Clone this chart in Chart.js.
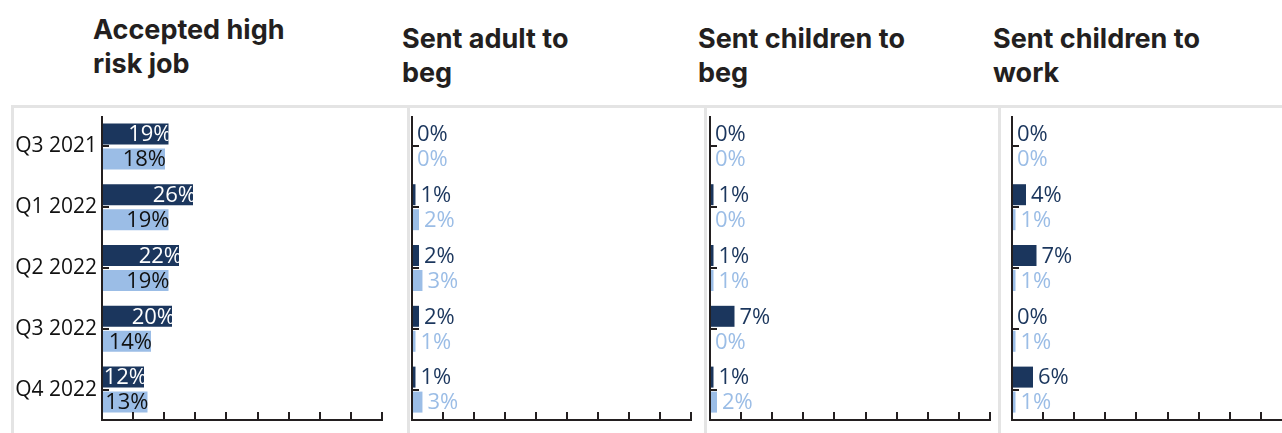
<!DOCTYPE html>
<html>
<head>
<meta charset="utf-8">
<script src="https://cdn.jsdelivr.net/npm/chart.js@4/dist/chart.umd.min.js"></script>
<style>
  html, body { margin: 0; padding: 0; background: #fff; }
  body { width: 1282px; height: 433px; position: relative; overflow: hidden; }
  .title {
    position: absolute; margin: 0;
    font-family: Inter, sans-serif; font-weight: 700; font-size: 27px;
    line-height: 34px; color: #231f20;
  }
  .rule { position: absolute; background: #e4e4e4; }
  .panel { position: absolute; top: 106px; height: 327px; }
</style>
</head>
<body>
<div class="rule" style="left:11px; top:105px; width:1271px; height:3px"></div>
<div class="rule" style="left:11px; top:105px; width:3px; height:328px"></div>
<div class="rule" style="left:407px; top:105px; width:3px; height:328px"></div>
<div class="rule" style="left:704px; top:105px; width:3px; height:328px"></div>
<div class="rule" style="left:998px; top:105px; width:3px; height:328px"></div>

<div id="t0" class="title" style="left:93px; top:13px"></div>
<div id="t1" class="title" style="left:402px; top:22px"></div>
<div id="t2" class="title" style="left:698px; top:22px"></div>
<div id="t3" class="title" style="left:993px; top:22px"></div>

<div class="panel" style="left:0; width:400px"><canvas id="c0"></canvas></div>
<div class="panel" style="left:400px; width:300px"><canvas id="c1"></canvas></div>
<div class="panel" style="left:700px; width:300px"><canvas id="c2"></canvas></div>
<div class="panel" style="left:1000px; width:310px"><canvas id="c3"></canvas></div>

<script>
const quarters = ['Q3 2021', 'Q1 2022', 'Q2 2022', 'Q3 2022', 'Q4 2022'];

const titles = [
  ['Accepted high', 'risk job'],
  ['Sent adult to', 'beg'],
  ['Sent children to', 'beg'],
  ['Sent children to', 'work'],
];

// two series per panel: dark bars on top, light bars below
const highRiskJobDark  = [19, 26, 22, 20, 12];
const highRiskJobLight = [18, 19, 19, 14, 13];
const adultBegDark     = [0, 1, 2, 2, 1];
const adultBegLight    = [0, 2, 3, 1, 3];
const childBegDark     = [0, 1, 1, 7, 1];
const childBegLight    = [0, 0, 1, 0, 2];
const childWorkDark    = [0, 4, 7, 0, 6];
const childWorkLight   = [0, 1, 1, 1, 1];

const X_MAX = 80;
const X_TICKS = 10;

const DARK = '#1b365d';
const LIGHT = '#9bbde6';
const INK = '#231f20';
const LABEL_FONT = '22px "Open Sans", sans-serif';

// axis lines, inward tick marks and value labels
const decor = {
  id: 'decor',
  afterDatasetsDraw(chart, args, opts) {
    const { ctx, chartArea: a, scales: { x, y } } = chart;
    ctx.save();
    ctx.strokeStyle = INK;
    ctx.lineWidth = 2;
    ctx.beginPath();
    ctx.moveTo(a.left, a.top);
    ctx.lineTo(a.left, a.bottom);
    ctx.lineTo(a.right + 1, a.bottom);
    x.ticks.forEach(t => {
      const px = Math.round(x.getPixelForValue(t.value));
      ctx.moveTo(px, a.bottom);
      ctx.lineTo(px, a.bottom - 8);
    });
    quarters.forEach((_, i) => {
      const py = Math.round(y.getPixelForValue(i));
      ctx.moveTo(a.left, py);
      ctx.lineTo(a.left + 7, py);
    });
    ctx.stroke();

    ctx.font = LABEL_FONT;
    ctx.textBaseline = 'middle';
    chart.data.datasets.forEach((ds, di) => {
      chart.getDatasetMeta(di).data.forEach((bar, i) => {
        const txt = ds.data[i] + '%';
        if (!opts.inside) {
          ctx.textAlign = 'left';
          ctx.fillStyle = ds.backgroundColor;
          ctx.fillText(txt, bar.x + 5, bar.y + 1);
          return;
        }
        ctx.textAlign = 'right';
        if (di === 0) {
          // white label sits inside the dark bar and is cut at its end
          ctx.save();
          ctx.beginPath();
          ctx.rect(bar.base, bar.y - bar.height / 2, bar.x - bar.base, bar.height);
          ctx.clip();
          ctx.fillStyle = '#ffffff';
          ctx.fillText(txt, bar.x + 3, bar.y + 1);
          ctx.restore();
        } else {
          ctx.fillStyle = '#111111';
          ctx.fillText(txt, bar.x + 1, bar.y + 1);
        }
      });
    });
    ctx.restore();
  }
};

function makePanel(idx, dark, light, pad, inside) {
  document.getElementById('t' + idx).innerHTML = titles[idx].join('<br>');
  const showLabels = idx === 0;
  return new Chart(document.getElementById('c' + idx), {
    type: 'bar',
    data: {
      labels: quarters,
      datasets: [
        { data: dark, backgroundColor: DARK },
        { data: light, backgroundColor: LIGHT },
      ],
    },
    options: {
      indexAxis: 'y',
      responsive: true,
      maintainAspectRatio: false,
      animation: false,
      events: [],
      categoryPercentage: 0.822,
      barPercentage: 0.84,
      layout: { padding: pad },
      plugins: {
        legend: { display: false },
        tooltip: { enabled: false },
        decor: { inside },
      },
      scales: {
        x: {
          display: false,
          min: 0,
          max: X_MAX,
          afterBuildTicks: s => {
            s.ticks = Array.from({ length: X_TICKS }, (_, i) => ({ value: i * X_MAX / (X_TICKS - 1) }));
          },
        },
        y: {
          display: showLabels,
          grid: { display: false, drawTicks: false },
          border: { display: false },
          ticks: {
            padding: 5,
            color: '#111111',
            font: { family: '"Open Sans", sans-serif', size: 21 },
          },
          afterFit: s => {
            if (!showLabels) return;
            s.width = 102;
            s.paddingTop = 0;
            s.paddingBottom = 0;
          },
        },
      },
    },
    plugins: [decor],
  });
}

makePanel(0, highRiskJobDark, highRiskJobLight, { top: 10, bottom: 13, left: 0, right: 18 }, true);
makePanel(1, adultBegDark, adultBegLight, { top: 10, bottom: 13, left: 12, right: 9 }, false);
makePanel(2, childBegDark, childBegLight, { top: 10, bottom: 13, left: 10, right: 10 }, false);
makePanel(3, childWorkDark, childWorkLight, { top: 10, bottom: 13, left: 12, right: 18 }, false);
</script>
</body>
</html>
